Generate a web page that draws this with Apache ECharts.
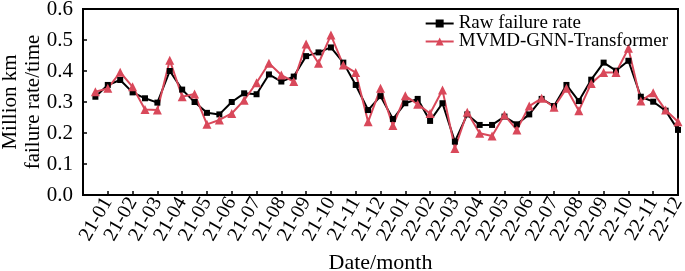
<!DOCTYPE html>
<html>
<head>
<meta charset="utf-8">
<script src="https://cdn.jsdelivr.net/npm/echarts@6/dist/echarts.min.js"></script>
<style>
html,body{margin:0;padding:0;background:#fff;}
#chart{width:685px;height:271px;}
</style>
</head>
<body>
<div id="chart"></div>
<script>
// month tick labels (one tick per month)
var monthLabels = ['21-01','21-02','21-03','21-04','21-05','21-06','21-07','21-08','21-09','21-10','21-11','21-12',
	'22-01','22-02','22-03','22-04','22-05','22-06','22-07','22-08','22-09','22-10','22-11','22-12'];
// two samples per month
var rawRate = [0.317,0.355,0.371,0.331,0.312,0.298,0.400,0.340,0.300,0.265,0.260,0.300,
	0.328,0.325,0.389,0.366,0.382,0.448,0.460,0.476,0.427,0.355,0.274,0.319,
	0.245,0.296,0.310,0.239,0.296,0.172,0.260,0.226,0.226,0.253,0.228,0.260,
	0.310,0.287,0.355,0.303,0.372,0.427,0.401,0.433,0.317,0.301,0.272,0.210];
var predRate = [0.333,0.344,0.396,0.349,0.276,0.274,0.435,0.317,0.326,0.228,0.242,0.263,
	0.306,0.362,0.425,0.387,0.366,0.487,0.425,0.516,0.419,0.395,0.236,0.344,
	0.224,0.320,0.293,0.263,0.339,0.150,0.267,0.199,0.190,0.258,0.210,0.287,
	0.312,0.283,0.344,0.272,0.360,0.395,0.395,0.473,0.303,0.330,0.274,0.236];

function toPairs(arr){
	var out = [];
	for (var i = 0; i < arr.length; i++) {
		out.push([(i + 1) / 2, arr[i]]);
	}
	return out;
}

var font = 'Liberation Serif';
var red = '#d9485a';
var chart = echarts.init(document.getElementById('chart'));
var option = {
	animation: false,
	grid: {left: 83, right: 7, top: 9, bottom: 76, containLabel: false, outerBoundsMode: 'none',
		show: true, borderColor: '#000', borderWidth: 2},
	legend: {
		right: 12, top: 9, orient: 'vertical', itemGap: -1,
		itemWidth: 28, itemHeight: 10,
		textStyle: {fontFamily: font, fontSize: 19, color: '#000'},
		data: ['Raw failure rate', 'MVMD-GNN-Transformer']
	},
	xAxis: {
		type: 'value', min: 0, max: 24, interval: 1,
		name: 'Date/month', nameLocation: 'middle', nameGap: 57, nameMoveOverlap: false,
		nameTextStyle: {fontFamily: font, fontSize: 22, color: '#000'},
		axisLine: {lineStyle: {color: '#000', width: 2}},
		axisTick: {inside: true, length: 4, lineStyle: {color: '#000', width: 1.5}},
		splitLine: {show: false},
		axisLabel: {
			rotate: 60, margin: 4, fontFamily: font, fontSize: 20, color: '#000',
			formatter: function (v) { return v >= 1 ? monthLabels[v - 1] : ''; }
		}
	},
	yAxis: {
		type: 'value', min: 0, max: 0.6, interval: 0.1,
		name: 'Million km\nfailure rate/time', nameLocation: 'middle', nameGap: 38, nameMoveOverlap: false,
		nameTextStyle: {fontFamily: font, fontSize: 21, color: '#000', lineHeight: 23},
		axisLine: {show: true, lineStyle: {color: '#000', width: 2}},
		axisTick: {show: true, inside: true, length: 4, lineStyle: {color: '#000', width: 1.5}},
		splitLine: {show: false},
		axisLabel: {
			fontFamily: font, fontSize: 21, color: '#000', margin: 10,
			formatter: function (v) { return v.toFixed(1); }
		}
	},
	series: [
		{
			name: 'Raw failure rate', type: 'line', data: toPairs(rawRate),
			symbol: 'rect', symbolSize: 6,
			lineStyle: {color: '#000', width: 2},
			itemStyle: {color: '#000'}
		},
		{
			name: 'MVMD-GNN-Transformer', type: 'line', data: toPairs(predRate),
			symbol: 'triangle', symbolSize: 9,
			lineStyle: {color: red, width: 2},
			itemStyle: {color: red}
		}
	]
};
chart.setOption(option);
</script>
</body>
</html>
